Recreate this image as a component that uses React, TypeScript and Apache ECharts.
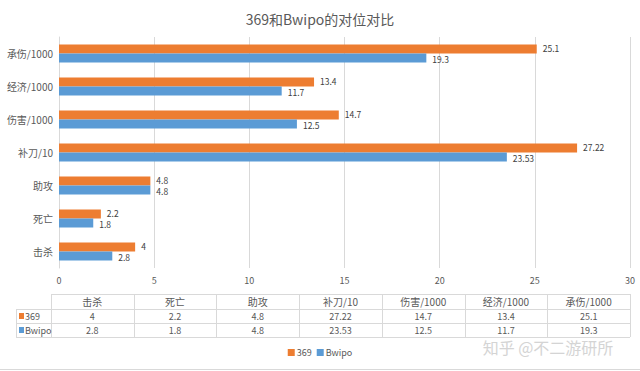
import React, { useEffect, useRef } from "react";
import * as echarts from "echarts";

const categories = ["击杀", "死亡", "助攻", "补刀/10", "伤害/1000", "经济/1000", "承伤/1000"];
const seriesNames = ["369", "Bwipo"];
const values369 = [4, 2.2, 4.8, 27.22, 14.7, 13.4, 25.1];
const valuesBwipo = [2.8, 1.8, 4.8, 23.53, 12.5, 11.7, 19.3];
const colors = ["#ED7D31", "#5B9BD5"];
const titleText = "369和Bwipo的对位对比";
const watermark = "知乎 @不二游研所";

const TEXT = "#595959";
const LINE = "#d9d9d9";
const FONT = "'Noto Sans CJK SC', 'Noto Sans', sans-serif";

function buildTable() {
  const left = 51;
  const right = 630;
  const labelLeft = 16;
  const rows = [294, 309, 323, 337];
  const colW = (right - left) / categories.length;
  const els: any[] = [];
  const line = (x1: number, y1: number, x2: number, y2: number) => ({
    type: "line",
    shape: { x1, y1, x2, y2 },
    style: { stroke: LINE, lineWidth: 1 },
    silent: true,
  });
  els.push(line(left, rows[0] + 0.5, right, rows[0] + 0.5));
  for (let i = 1; i < rows.length; i++) {
    els.push(line(labelLeft, rows[i] + 0.5, right, rows[i] + 0.5));
  }
  els.push(line(labelLeft + 0.5, rows[1], labelLeft + 0.5, rows[3]));
  for (let c = 0; c <= categories.length; c++) {
    const x = Math.round(left + c * colW) + 0.5;
    els.push(line(x, rows[0], x, rows[3]));
  }
  categories.forEach((cat, c) => {
    els.push({
      type: "text",
      x: left + (c + 0.5) * colW,
      y: (rows[0] + rows[1]) / 2,
      style: { text: cat, fill: TEXT, font: `10px ${FONT}`, align: "center", verticalAlign: "middle" },
      silent: true,
    });
  });
  const data = [values369, valuesBwipo];
  data.forEach((vals, r) => {
    const cy = (rows[r + 1] + rows[r + 2]) / 2;
    els.push({
      type: "rect",
      shape: { x: labelLeft + 3, y: cy - 3, width: 5, height: 6 },
      style: { fill: colors[r] },
      silent: true,
    });
    els.push({
      type: "text",
      x: labelLeft + 9,
      y: cy,
      style: { text: seriesNames[r], fill: TEXT, font: `9px ${FONT}`, align: "left", verticalAlign: "middle" },
      silent: true,
    });
    vals.forEach((v, c) => {
      els.push({
        type: "text",
        x: left + (c + 0.5) * colW,
        y: cy,
        style: { text: String(v), fill: TEXT, font: `9px ${FONT}`, align: "center", verticalAlign: "middle" },
        silent: true,
      });
    });
  });
  els.push({
    type: "text",
    x: 548,
    y: 347,
    style: { text: watermark, fill: "#d4d4d4", font: `16px ${FONT}`, align: "center", verticalAlign: "middle" },
    silent: true,
  });
  els.push(line(0, 369.5, 640, 369.5));
  return els;
}

export default function App() {
  const ref = useRef<HTMLDivElement>(null);
  useEffect(() => {
    if (!ref.current) return;
    const chart = echarts.init(ref.current, null, { renderer: "svg" });
    const barLabel = (dy: number) => ({
      show: true,
      position: "right",
      distance: 6,
      fontSize: 8.5,
      lineHeight: 9,
      color: "#404040",
      offset: [0, dy],
    });
    chart.setOption({
      animation: false,
      backgroundColor: "#ffffff",
      textStyle: { fontFamily: FONT },
      title: {
        text: titleText,
        left: "center",
        top: 7,
        textStyle: { fontSize: 14, fontWeight: "normal", color: TEXT, fontFamily: FONT },
      },
      legend: {
        data: seriesNames,
        bottom: 9,
        left: "center",
        icon: "rect",
        itemWidth: 7,
        itemHeight: 7,
        itemGap: 5,
        textStyle: { fontSize: 9, color: TEXT, padding: [0, 0, 0, -3] },
      },
      grid: { left: 59, right: 10, top: 37, height: 231, containLabel: false },
      xAxis: {
        type: "value",
        min: 0,
        max: 30,
        interval: 5,
        axisLine: { show: false },
        axisTick: { show: false },
        axisLabel: { fontSize: 9, color: TEXT, margin: 8 },
        splitLine: { lineStyle: { color: LINE } },
      },
      yAxis: {
        type: "category",
        data: categories,
        axisLine: { lineStyle: { color: LINE } },
        axisTick: { show: false },
        axisLabel: { fontSize: 10, color: TEXT, margin: 6 },
      },
      series: [
        {
          name: seriesNames[0],
          type: "bar",
          data: values369,
          itemStyle: { color: colors[0] },
          barGap: "0%",
          barCategoryGap: "45%",
          label: barLabel(-1),
        },
        {
          name: seriesNames[1],
          type: "bar",
          data: valuesBwipo,
          itemStyle: { color: colors[1] },
          barGap: "0%",
          barCategoryGap: "45%",
          label: barLabel(1),
        },
      ],
      graphic: buildTable(),
    });
    return () => chart.dispose();
  }, []);
  return <div ref={ref} style={{ position: "fixed", left: 0, top: 0, width: 640, height: 371 }} />;
}
